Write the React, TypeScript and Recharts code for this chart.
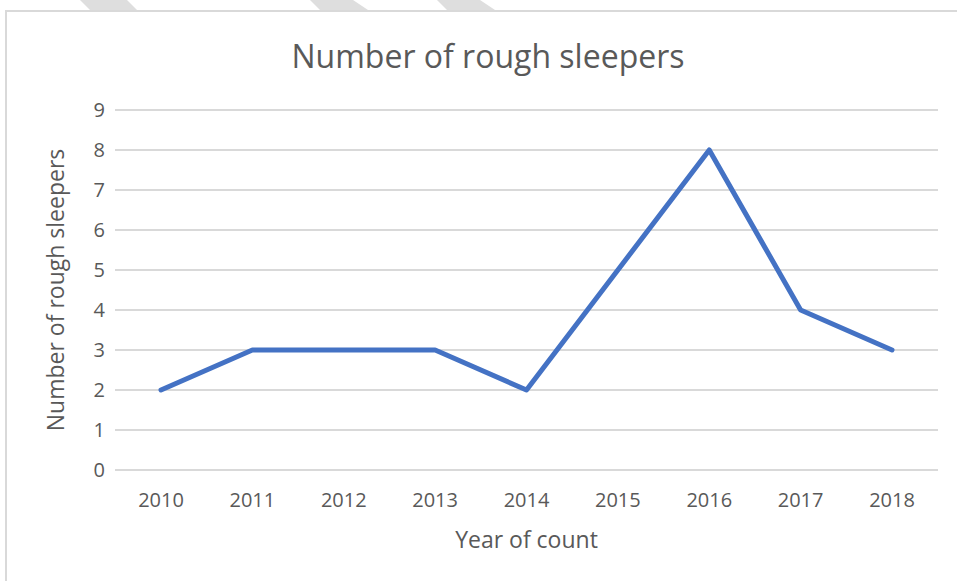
import React from 'react';
import { LineChart, Line, XAxis, YAxis, CartesianGrid, Label } from 'recharts';

const years = ['2010', '2011', '2012', '2013', '2014', '2015', '2016', '2017', '2018'];
const sleepers = [2, 3, 3, 3, 2, 5, 8, 4, 3];
const yTicks = [0, 1, 2, 3, 4, 5, 6, 7, 8, 9];

const data = years.map((year, i) => ({ year, count: sleepers[i] }));

const FONT = '"Open Sans", sans-serif';
const GREY = '#595959';

export default function App() {
  return (
    <div
      style={{
        position: 'absolute',
        left: 0,
        top: 0,
        width: 957,
        height: 581,
        overflow: 'hidden',
        background: '#fff',
        fontFamily: FONT,
      }}
    >
      {/* faint stripes peeking above the chart frame */}
      <svg width={957} height={12} style={{ position: 'absolute', left: 0, top: 0 }}>
        <polygon points="80,0 127,0 137,10 90,10" fill="#dedede" />
        <polygon points="310,0 353,0 368,10 320,10" fill="#dedede" />
        <polygon points="437,0 480,0 495,10 447,10" fill="#dedede" />
      </svg>
      <div
        style={{
          position: 'absolute',
          left: 5,
          top: 10,
          width: 1000,
          height: 700,
          borderLeft: '2px solid #d9d9d9',
          borderTop: '2px solid #d9d9d9',
        }}
      />
      <div
        style={{
          position: 'absolute',
          left: 188,
          top: 40,
          width: 600,
          textAlign: 'center',
          fontSize: 32,
          lineHeight: '32px',
          color: GREY,
        }}
      >
        Number of rough sleepers
      </div>
      <div style={{ position: 'absolute', left: 0, top: 0 }}>
        <LineChart
          width={957}
          height={581}
          data={data}
          margin={{ top: 110, right: 19, left: 0, bottom: 0 }}
        >
          <CartesianGrid vertical={false} stroke="#d9d9d9" strokeWidth={2} />
          <XAxis
            dataKey="year"
            height={111}
            axisLine={false}
            tickLine={false}
            tickMargin={17}
            padding={{ left: 46, right: 46 }}
            tick={{ fontSize: 20, fill: GREY, fontFamily: FONT }}
          >
            <Label
              value="Year of count"
              position="insideBottom"
              offset={33}
              style={{ fontSize: 23, fill: GREY, fontFamily: FONT }}
            />
          </XAxis>
          <YAxis
            width={115}
            domain={[0, 9]}
            ticks={yTicks}
            interval={0}
            axisLine={false}
            tickLine={false}
            tickMargin={4}
            tick={{ fontSize: 20, fill: GREY, fontFamily: FONT }}
          >
            <Label
              value="Number of rough sleepers"
              angle={-90}
              position="insideLeft"
              offset={56}
              style={{ fontSize: 23, fill: GREY, fontFamily: FONT, textAnchor: 'middle' }}
            />
          </YAxis>
          <Line
            type="linear"
            dataKey="count"
            stroke="#4472C4"
            strokeWidth={5}
            strokeLinecap="round"
            strokeLinejoin="round"
            dot={false}
            activeDot={false}
            isAnimationActive={false}
          />
        </LineChart>
      </div>
    </div>
  );
}
